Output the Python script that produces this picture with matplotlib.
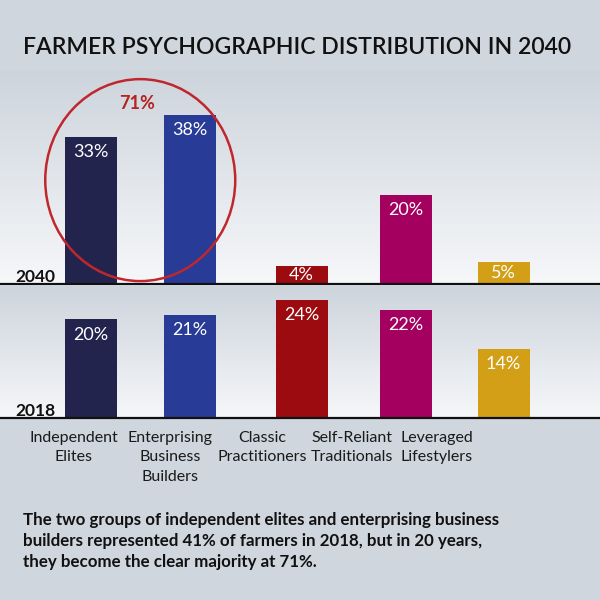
import matplotlib
matplotlib.use("Agg")
import matplotlib.pyplot as plt
import numpy as np
from matplotlib.patches import Ellipse
from matplotlib.colors import LinearSegmentedColormap

# ---- data ----
categories = ["Independent\nElites", "Enterprising\nBusiness\nBuilders",
              "Classic\nPractitioners", "Self-Reliant\nTraditionals",
              "Leveraged\nLifestylers"]
values_2040 = [33, 38, 4, 20, 5]
values_2018 = [20, 21, 24, 22, 14]
years = ["2040", "2018"]
combined_2040 = 71
title = "FARMER PSYCHOGRAPHIC DISTRIBUTION IN 2040"
caption = ("The two groups of independent elites and enterprising business\n"
           "builders represented 41% of farmers in 2018, but in 20 years,\n"
           "they become the clear majority at 71%.")

# ---- style / layout ----
colors = ["#22244e", "#283b97", "#9c0b0f", "#a4005f", "#d29f16"]
bar_x = [91, 189.5, 301.5, 405.5, 503.5]      # bar centres (px)
label_x = [74, 170, 262, 352, 437]            # category label centres (px)
bar_w = 52
BG = "#cfd6de"
FONT = "Lato"
W, H = 600, 600

fig = plt.figure(figsize=(6, 6), dpi=100, facecolor=BG)
cmap = LinearSegmentedColormap.from_list("g", ["#cdd4dc", "#f6f7f9"])


def px_axes(top, bottom, ymax):
    ax = fig.add_axes([0, 1 - bottom / H, 1, (bottom - top) / H])
    ax.set_xlim(0, W)
    ax.set_ylim(0, ymax)
    ax.axis("off")
    grad = np.linspace(0, 1, 256).reshape(-1, 1)
    ax.imshow(grad, cmap=cmap, extent=[0, W, 0, ymax], aspect="auto",
              origin="upper", zorder=0)
    ax.axhline(0, color="#111111", lw=1.6, clip_on=False, zorder=3)
    return ax


ax40 = px_axes(70, 284, 48.0)
ax18 = px_axes(285, 418, 27.0)

for ax, vals, yr in [(ax40, values_2040, years[0]), (ax18, values_2018, years[1])]:
    ax.bar(bar_x, vals, width=bar_w, color=colors, zorder=2)
    ymax = ax.get_ylim()[1]
    ppu = ax.get_window_extent().height / ymax   # pixels per unit
    for x, v in zip(bar_x, vals):
        bar_px = v * ppu
        if bar_px < 32:
            pos, off = (x, v / 2), (0, 0)
        else:
            pos, off = (x, v), (0, -11)
        ax.annotate(f"{v}%", pos, xytext=off, textcoords="offset points",
                    ha="center", va="center", color="white", fontsize=13,
                    family=FONT, zorder=4)
    ax.text(15, 2.5 / ppu, yr, ha="left", va="baseline", fontsize=12.5,
            fontweight="bold", family=FONT, color="#111111", zorder=4)

# circle annotation around first two 2040 bars
cx = (bar_x[0] + bar_x[1]) / 2
ell = Ellipse((cx, 23.3), 190, 45.3, fill=False, edgecolor="#c0272d", lw=1.8,
              zorder=5, clip_on=False)
ax40.add_patch(ell)
ax40.text(cx - 3, 40.5, f"{combined_2040}%", ha="center", va="center",
          color="#b5221f", fontsize=13, fontweight="bold", family=FONT, zorder=5)

fig.text(0.495, 1 - 48 / H, title, ha="center", va="center", fontsize=16.6,
         family=FONT, fontweight="semibold", color="#111111")

for lx, cat in zip(label_x, categories):
    fig.text(lx / W, 1 - 431 / H, cat, ha="center", va="top", fontsize=11.5,
             family=FONT, color="#1a1a1a", linespacing=1.48)

fig.text(23 / W, 1 - 512 / H, caption, ha="left", va="top", fontsize=12.2,
         fontweight="bold", family=FONT, color="#111111", linespacing=1.38)

fig.savefig("out.png", dpi=100, facecolor=BG)
